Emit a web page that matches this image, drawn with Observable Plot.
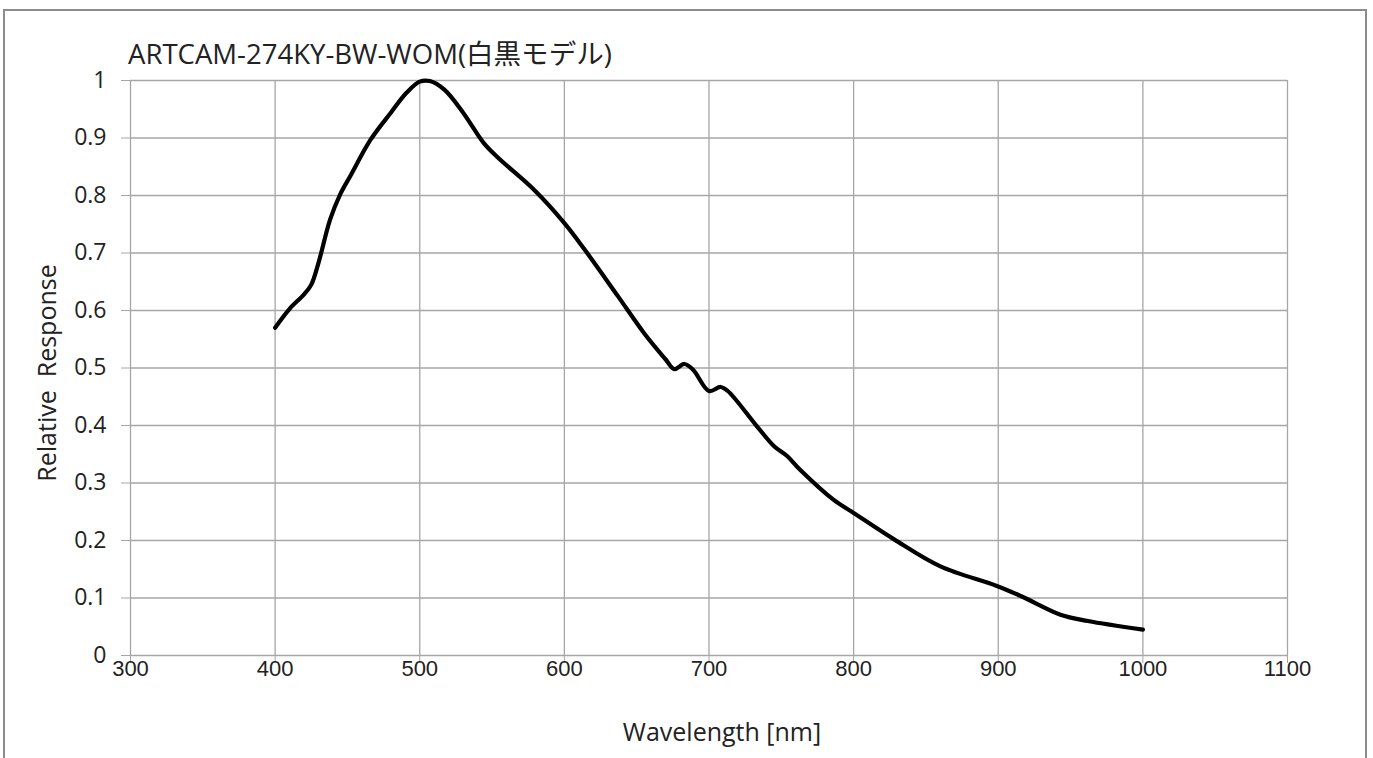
<!DOCTYPE html>
<html>
<head>
<meta charset="utf-8">
<script src="https://cdn.jsdelivr.net/npm/d3@7"></script>
<script src="https://cdn.jsdelivr.net/npm/@observablehq/plot@0.6"></script>
<style>
  html, body { margin: 0; padding: 0; background: #fff; width: 1373px; height: 758px; overflow: hidden; }
  #frame { position: absolute; left: 3px; top: 9px; width: 1364px; height: 800px; border: 2px solid #8c8c8c; box-sizing: border-box; }
  #chart { position: absolute; left: 0; top: 0; }
</style>
</head>
<body>
<div id="frame"></div>
<div id="chart"></div>
<script>
const chartTitle = "ARTCAM-274KY-BW-WOM(白黒モデル)";
const xLabel = "Wavelength [nm]";
const yLabel = "Relative  Response";

const wavelength = [400, 410, 420, 425, 430, 438, 445, 452, 466, 480, 491, 500, 507, 517, 530, 544, 554, 579, 600, 614, 637, 655, 670, 676, 683, 689, 700, 708, 713, 733, 745, 754, 763, 786, 800, 828, 860, 899, 916, 943, 962, 1000];
const response   = [0.570, 0.603, 0.628, 0.645, 0.683, 0.758, 0.802, 0.834, 0.897, 0.944, 0.979, 0.998, 0.999, 0.984, 0.944, 0.892, 0.866, 0.810, 0.752, 0.706, 0.625, 0.561, 0.515, 0.498, 0.507, 0.497, 0.460, 0.467, 0.460, 0.399, 0.364, 0.347, 0.323, 0.271, 0.248, 0.202, 0.155, 0.121, 0.103, 0.071, 0.060, 0.045];

const xTicks = [300, 400, 500, 600, 700, 800, 900, 1000, 1100];
const yTicks = [0, 0.1, 0.2, 0.3, 0.4, 0.5, 0.6, 0.7, 0.8, 0.9, 1];

const data = wavelength.map((w, i) => ({w, r: response[i]}));

const gridColor = "#a6a6a6";
const plot = Plot.plot({
  width: 1373,
  height: 758,
  marginLeft: 130,
  marginRight: 86,
  marginTop: 80,
  marginBottom: 103,
  style: {background: "transparent", overflow: "visible"},
  x: {domain: [300, 1100]},
  y: {domain: [0, 1]},
  marks: [
    Plot.ruleX(xTicks, {stroke: gridColor, strokeWidth: 1.3, strokeOpacity: 1}),
    Plot.ruleY(yTicks, {stroke: gridColor, strokeWidth: 1.3, strokeOpacity: 1}),
    Plot.axisX({ticks: xTicks, tickSize: 8, stroke: gridColor, strokeOpacity: 1, tickPadding: -3, label: null,
      tickFormat: d => String(d),
      fontFamily: "Liberation Sans, Arial, sans-serif", fontSize: 22, fill: "#222"}),
    Plot.axisY({ticks: yTicks, tickSize: 9, stroke: gridColor, strokeOpacity: 1, tickPadding: 15, label: null,
      tickFormat: d => String(d),
      fontFamily: "Open Sans, Noto Sans, sans-serif", fontSize: 23, fill: "#222"}),
    Plot.line(data, {x: "w", y: "r", stroke: "#000", strokeWidth: 4.2, curve: "catmull-rom"})
  ]
});
document.getElementById("chart").appendChild(plot);

const svg = d3.select(plot);
const title = svg.append("text")
  .attr("x", 128).attr("y", 64)
  .attr("text-anchor", "start")
  .attr("font-family", "Open Sans, Noto Sans CJK JP, sans-serif")
  .attr("font-size", 24).attr("fill", "#222")
  .text(chartTitle);
// fit title to the reference width
const tw = title.node().getComputedTextLength();
if (tw > 0) title.attr("font-size", 24 * 484 / tw);

svg.append("text")
  .attr("x", 722).attr("y", 741)
  .attr("text-anchor", "middle")
  .attr("font-family", "Open Sans, Noto Sans, sans-serif")
  .attr("font-size", 25).attr("fill", "#222")
  .text(xLabel);
svg.append("text")
  .attr("transform", "translate(56,373) rotate(-90)")
  .attr("text-anchor", "middle")
  .attr("font-family", "Open Sans, Noto Sans, sans-serif")
  .attr("font-size", 25).attr("fill", "#222")
  .attr("xml:space", "preserve").style("white-space", "pre")
  .text(yLabel);
</script>
</body>
</html>
